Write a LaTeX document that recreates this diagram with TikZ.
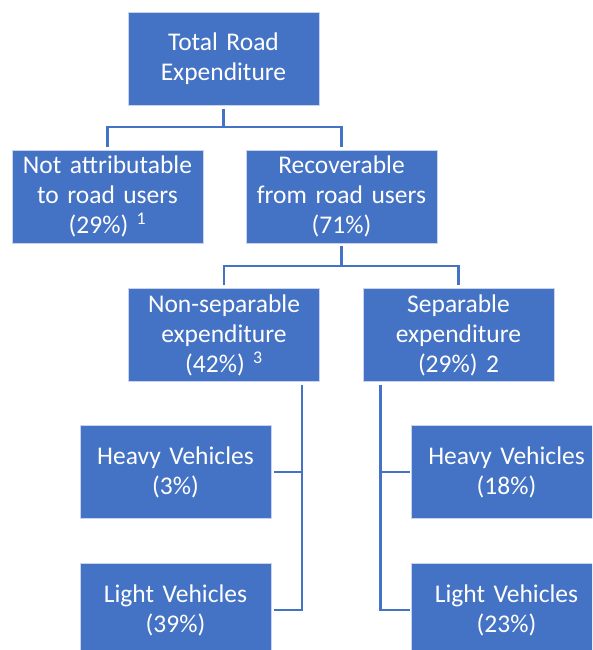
\documentclass[tikz,border=0pt]{standalone}
\usepackage{fontspec}
\setmainfont{Carlito}
\definecolor{boxblue}{HTML}{4472C4}
\definecolor{edgeblue}{HTML}{C9D4EC}
\begin{document}
\begin{tikzpicture}[x=1pt,y=-1pt,
  box/.style={fill=boxblue, draw=edgeblue, line width=0.6pt, text=white,
    minimum width=191pt, minimum height=93pt, text width=187pt, inner sep=0pt,
    align=center, font=\fontsize{25.5}{30}\selectfont},
  conn/.style={draw=boxblue, line width=2.6pt, line join=miter}]
\useasboundingbox (0,0) rectangle (592,650);
\clip (0,0) rectangle (592,650);
\node[box] (total) at (223.5,59) {Total Road\\Expenditure};
\node[box] (na) at (107.5,196.5) {Not attributable\\to road users\\(29\%) \textsuperscript{1}};
\node[box] (rec) at (341.5,196.5) {Recoverable\\from road users\\(71\%)};
\node[box] (nonsep) at (224,335) {Non-separable\\expenditure\\(42\%) \textsuperscript{3}};
\node[box] (sep) at (458.5,335) {Separable\\expenditure\\(29\%) 2};
\node[box] (hv1) at (175.5,472) {Heavy Vehicles\\(3\%)};
\node[box] (lv1) at (175.5,610) {Light Vehicles\\(39\%)};
\node[box] (hv2) at (506.5,472) {Heavy Vehicles\\(18\%)};
\node[box] (lv2) at (506.5,610) {Light Vehicles\\(23\%)};
% level 1
\coordinate (j1) at (0,127);
\draw[conn, shorten <=3pt] (total.south) -- (total.south |- j1);
\draw[conn, shorten <=3pt, shorten >=3pt] (na.north) -- (na.north |- j1) -- (rec.north |- j1) -- (rec.north);
% level 2
\coordinate (j2) at (0,266);
\draw[conn, shorten <=3pt] (rec.south) -- (rec.south |- j2);
\draw[conn, shorten <=3pt, shorten >=3pt] (nonsep.north) -- (nonsep.north |- j2) -- (sep.north |- j2) -- (sep.north);
% level 3 left
\coordinate (v1) at ([xshift=-18pt]nonsep.south east);
\draw[conn, shorten <=3pt, shorten >=3pt] (v1) -- (v1 |- lv1.east) -- (lv1.east);
\draw[conn, shorten >=3pt] (v1 |- hv1.east) -- (hv1.east);
% level 3 right
\coordinate (v2) at ([xshift=18pt]sep.south west);
\draw[conn, shorten <=3pt, shorten >=1pt] (v2) -- (v2 |- lv2.west) -- (lv2.west);
\draw[conn, shorten >=1pt] (v2 |- hv2.west) -- (hv2.west);
\end{tikzpicture}
\end{document}
